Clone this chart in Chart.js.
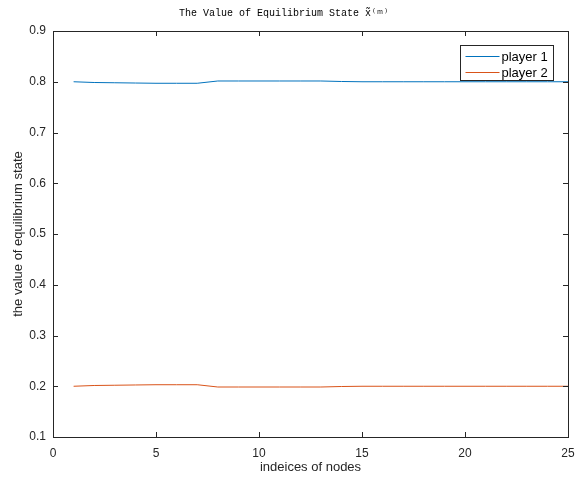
<!DOCTYPE html>
<html>
<head>
<meta charset="utf-8">
<script src="https://cdn.jsdelivr.net/npm/chart.js@4"></script>
<style>
  html, body { margin: 0; padding: 0; background: #fff; }
</style>
</head>
<body>
<canvas id="grafico" width="576" height="477"></canvas>
<script>
// data
const nodes = [1,2,3,4,5,6,7,8,9,10,11,12,13,14,15,16,17,18,19,20,21,22,23,24,25];
const player1 = [0.800,0.7985,0.798,0.7975,0.797,0.797,0.797,0.8015,0.8015,0.8015,0.8015,0.8015,0.8015,0.8005,0.800,0.800,0.800,0.800,0.800,0.800,0.800,0.800,0.800,0.800,0.800];
const player2 = [0.200,0.2015,0.202,0.2025,0.203,0.203,0.203,0.1985,0.1985,0.1985,0.1985,0.1985,0.1985,0.1995,0.200,0.200,0.200,0.200,0.200,0.200,0.200,0.200,0.200,0.200,0.200];
const seriesNames = ['player 1', 'player 2'];
const seriesColors = ['#0072BD', '#D95319'];
const xTicks = [0, 5, 10, 15, 20, 25];
const yTicks = [0.1, 0.2, 0.3, 0.4, 0.5, 0.6, 0.7, 0.8, 0.9];

const FONT = '"Liberation Sans", Arial, sans-serif';

// box, inward ticks and legend like matlab
const matlabAxes = {
  id: 'matlabAxes',
  afterDraw(chart) {
    const { ctx, chartArea: a, scales } = chart;
    ctx.save();
    ctx.strokeStyle = '#262626';
    ctx.lineWidth = 1;
    ctx.strokeRect(a.left + 0.5, a.top + 0.5, a.right - a.left, a.bottom - a.top);
    ctx.beginPath();
    xTicks.forEach(v => {
      const x = Math.round(scales.x.getPixelForValue(v)) + 0.5;
      ctx.moveTo(x, a.bottom); ctx.lineTo(x, a.bottom - 5);
      ctx.moveTo(x, a.top); ctx.lineTo(x, a.top + 5);
    });
    yTicks.forEach(v => {
      const y = Math.round(scales.y.getPixelForValue(v)) + 0.5;
      ctx.moveTo(a.left, y); ctx.lineTo(a.left + 5, y);
      ctx.moveTo(a.right, y); ctx.lineTo(a.right - 5, y);
    });
    ctx.stroke();

    // legend
    const lx = 460.5, ly = 45.5, lw = 93, lh = 35;
    ctx.fillStyle = '#fff';
    ctx.fillRect(lx, ly, lw, lh);
    ctx.strokeStyle = '#262626';
    ctx.strokeRect(lx, ly, lw, lh);
    ctx.font = '13px ' + FONT;
    ctx.textBaseline = 'middle';
    seriesNames.forEach((name, i) => {
      const y = Math.round(ly + 10 + i * 16);
      ctx.strokeStyle = seriesColors[i];
      ctx.beginPath();
      ctx.moveTo(lx + 5, y + 0.5); ctx.lineTo(lx + 39, y + 0.5);
      ctx.stroke();
      ctx.fillStyle = '#000';
      ctx.fillText(name, lx + 41, y + 1);
    });
    ctx.restore();
  }
};

new Chart(document.getElementById('grafico').getContext('2d'), {
  type: 'line',
  data: {
    labels: nodes,
    datasets: [
      {
        label: seriesNames[0],
        data: nodes.map((n, i) => ({ x: n, y: player1[i] })),
        borderColor: seriesColors[0],
        borderWidth: 1,
        pointRadius: 0,
        tension: 0
      },
      {
        label: seriesNames[1],
        data: nodes.map((n, i) => ({ x: n, y: player2[i] })),
        borderColor: seriesColors[1],
        borderWidth: 1,
        pointRadius: 0,
        tension: 0
      }
    ]
  },
  options: {
    responsive: false,
    animation: false,
    devicePixelRatio: 1,
    layout: { padding: { top: 0, right: 8, bottom: 0, left: 0 } },
    scales: {
      x: {
        type: 'linear',
        min: 0, max: 25,
        afterBuildTicks: s => { s.ticks = xTicks.map(v => ({ value: v })); },
        afterFit: s => { s.height = 40; s.paddingRight = 0; s.paddingLeft = 0; },
        grid: { display: false, drawTicks: false },
        border: { display: false },
        ticks: { color: '#262626', font: { family: FONT, size: 12 }, padding: 9, maxRotation: 0, autoSkip: false },
        title: { display: true, text: 'indeices of nodes', color: '#262626', font: { family: FONT, size: 13 }, padding: { top: 0, bottom: 2 } }
      },
      y: {
        min: 0.1, max: 0.9,
        afterBuildTicks: s => { s.ticks = yTicks.map(v => ({ value: v })); },
        afterFit: s => { s.width = 53; },
        grid: { display: false, drawTicks: false },
        border: { display: false },
        ticks: { color: '#262626', font: { family: FONT, size: 12 }, padding: 7, autoSkip: false, callback: v => v.toFixed(1) },
        title: { display: true, text: 'the value of equilibrium state', color: '#262626', font: { family: FONT, size: 13 }, padding: { top: 11, bottom: 2 } }
      }
    },
    plugins: {
      legend: { display: false },
      tooltip: { enabled: false },
      title: {
        display: true,
        text: 'The Value of Equilibrium State x\u0303\u207D\u1D50\u207E',
        color: '#000',
        font: { family: '"Liberation Mono", "DejaVu Sans Mono", monospace', size: 10, weight: 'normal' },
        padding: { top: 7, bottom: 12 }
      }
    }
  },
  plugins: [matlabAxes]
});
</script>
</body>
</html>
